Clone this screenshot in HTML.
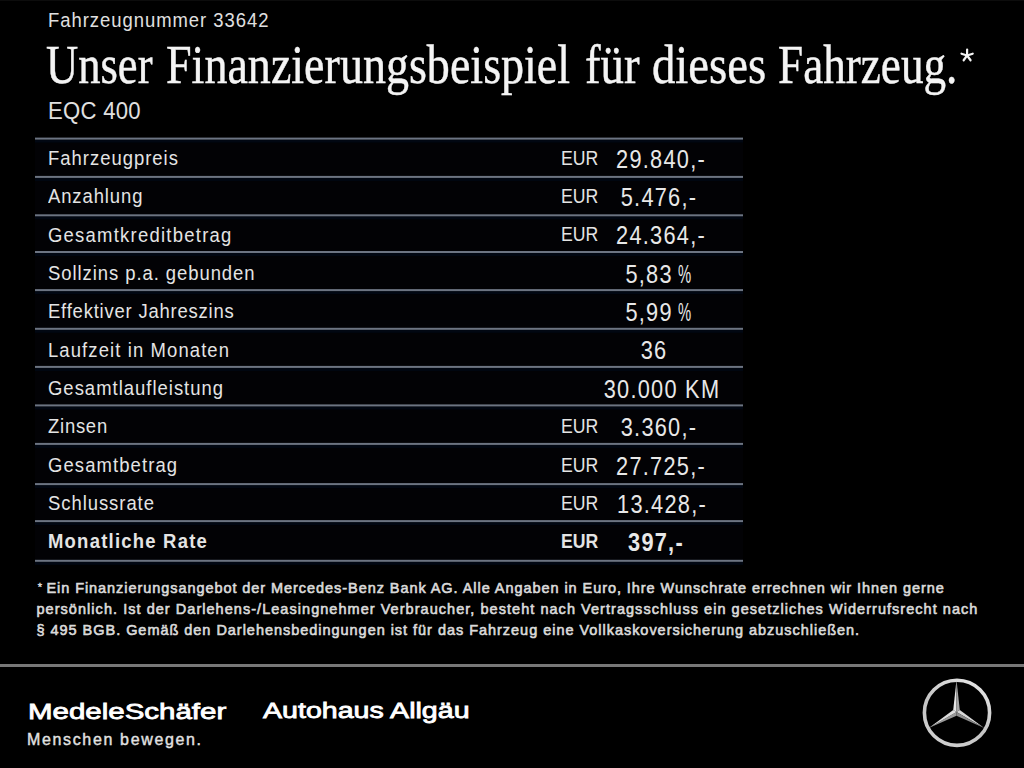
<!DOCTYPE html>
<html><head><meta charset="utf-8">
<style>
html,body{margin:0;padding:0;background:#000;}
body{width:1024px;height:768px;position:relative;overflow:hidden;font-family:"Liberation Sans",sans-serif;color:#e8e8e8;}
.a{position:absolute;white-space:nowrap;line-height:1;}
.lab{position:absolute;left:48px;font-size:20.5px;line-height:1;white-space:nowrap;color:#e4e4e4;letter-spacing:1.06px;transform-origin:0 0;transform:scaleX(0.9);}
.eur{position:absolute;left:561px;font-size:21px;line-height:1;color:#e4e4e4;transform-origin:0 0;transform:scaleX(0.84);}
.val{position:absolute;left:560px;width:200px;text-align:center;font-size:25px;line-height:1;color:#e8e8e8;letter-spacing:1.45px;transform:scaleX(0.87);}
.fn{position:absolute;left:36.5px;font-size:14.5px;line-height:1;color:#dadada;white-space:nowrap;-webkit-text-stroke:0.6px #dadada;}
b{font-weight:bold;}
</style></head><body>
<div style="position:absolute;left:35px;top:139px;width:708px;height:422px;background:#020205;"></div>
<div style="position:absolute;left:0;top:0;width:1024px;height:1px;background:#0c0c0c;"></div>
<div class="a" style="left:48px;top:10.25px;font-size:20.5px;letter-spacing:1.08px;color:#e0e0e0;transform-origin:0 0;transform:scaleX(0.9);">Fahrzeugnummer 33642</div>
<div class="a" style="left:46.29px;top:36.94px;font-family:'Liberation Serif',serif;font-size:55px;color:#f4f4f4;-webkit-text-stroke:0.45px #f4f4f4;transform-origin:0 0;transform:scaleX(0.8108);">Unser</div>
<div class="a" style="left:165.96px;top:36.94px;font-family:'Liberation Serif',serif;font-size:55px;color:#f4f4f4;-webkit-text-stroke:0.45px #f4f4f4;transform-origin:0 0;transform:scaleX(0.8372);">Finanzierungsbeispiel</div>
<div class="a" style="left:584.80px;top:36.94px;font-family:'Liberation Serif',serif;font-size:55px;color:#f4f4f4;-webkit-text-stroke:0.45px #f4f4f4;transform-origin:0 0;transform:scaleX(0.8516);">für</div>
<div class="a" style="left:651.60px;top:36.94px;font-family:'Liberation Serif',serif;font-size:55px;color:#f4f4f4;-webkit-text-stroke:0.45px #f4f4f4;transform-origin:0 0;transform:scaleX(0.8496);">dieses</div>
<div class="a" style="left:778.48px;top:36.94px;font-family:'Liberation Serif',serif;font-size:55px;color:#f4f4f4;-webkit-text-stroke:0.45px #f4f4f4;transform-origin:0 0;transform:scaleX(0.8215);">Fahrzeug.</div>
<svg style="position:absolute;left:0;top:0" width="1024" height="120"><g stroke="#f4f4f4" stroke-width="2.2" stroke-linecap="round"><line x1="967.1" y1="55.5" x2="967.10" y2="49.60"/><line x1="967.1" y1="55.5" x2="972.71" y2="53.68"/><line x1="967.1" y1="55.5" x2="970.57" y2="60.27"/><line x1="967.1" y1="55.5" x2="963.63" y2="60.27"/><line x1="967.1" y1="55.5" x2="961.49" y2="53.68"/></g></svg>
<div class="a" style="left:48.3px;top:100.03px;font-size:23px;letter-spacing:0.3px;color:#e0e0e0;transform-origin:0 0;transform:scaleX(0.96);">EQC 400</div>
<svg style="position:absolute;left:0;top:0" width="1024" height="768">
<rect x="35" y="139.60" width="708" height="3" fill="#010712"/>
<rect x="35" y="137.60" width="708" height="2" fill="#6c7482"/>
<rect x="35" y="177.90" width="708" height="3" fill="#010712"/>
<rect x="35" y="175.90" width="708" height="2" fill="#6c7482"/>
<rect x="35" y="216.30" width="708" height="3" fill="#010712"/>
<rect x="35" y="214.30" width="708" height="2" fill="#6c7482"/>
<rect x="35" y="253.00" width="708" height="3" fill="#010712"/>
<rect x="35" y="251.00" width="708" height="2" fill="#6c7482"/>
<rect x="35" y="291.10" width="708" height="3" fill="#010712"/>
<rect x="35" y="289.10" width="708" height="2" fill="#6c7482"/>
<rect x="35" y="329.80" width="708" height="3" fill="#010712"/>
<rect x="35" y="327.80" width="708" height="2" fill="#6c7482"/>
<rect x="35" y="367.90" width="708" height="3" fill="#010712"/>
<rect x="35" y="365.90" width="708" height="2" fill="#6c7482"/>
<rect x="35" y="406.40" width="708" height="3" fill="#010712"/>
<rect x="35" y="404.40" width="708" height="2" fill="#6c7482"/>
<rect x="35" y="444.90" width="708" height="3" fill="#010712"/>
<rect x="35" y="442.90" width="708" height="2" fill="#6c7482"/>
<rect x="35" y="485.10" width="708" height="3" fill="#010712"/>
<rect x="35" y="483.10" width="708" height="2" fill="#6c7482"/>
<rect x="35" y="522.10" width="708" height="3" fill="#010712"/>
<rect x="35" y="520.10" width="708" height="2" fill="#6c7482"/>
<rect x="35" y="561.80" width="708" height="3" fill="#010712"/>
<rect x="35" y="559.80" width="708" height="2" fill="#6c7482"/>
<rect x="0" y="664" width="1024" height="3" fill="#777"/>
</svg>
<div class="lab" style="top:147.95px;letter-spacing:1.106px">Fahrzeugpreis</div>
<div class="eur" style="top:146.72px">EUR</div>
<div class="val" style="left:560.75px;top:146.74px">29.840,-</div>
<div class="lab" style="top:186.30px;letter-spacing:1.004px">Anzahlung</div>
<div class="eur" style="top:185.07px">EUR</div>
<div class="val" style="left:558.90px;top:185.09px">5.476,-</div>
<div class="lab" style="top:224.65px;letter-spacing:1.393px">Gesamtkreditbetrag</div>
<div class="eur" style="top:223.42px">EUR</div>
<div class="val" style="left:560.50px;top:223.44px">24.364,-</div>
<div class="lab" style="top:263.00px;letter-spacing:1.049px">Sollzins p.a. gebunden</div>
<div class="val" style="left:557.80px;top:261.79px">5,83&#8201;<span style="display:inline-block;width:14px;transform-origin:0 0;transform:scaleX(0.68);">%</span></div>
<div class="lab" style="top:301.35px;letter-spacing:0.882px">Effektiver Jahreszins</div>
<div class="val" style="left:557.80px;top:300.14px">5,99&#8201;<span style="display:inline-block;width:14px;transform-origin:0 0;transform:scaleX(0.68);">%</span></div>
<div class="lab" style="top:339.70px;letter-spacing:1.233px">Laufzeit in Monaten</div>
<div class="val" style="left:553.50px;top:338.49px">36</div>
<div class="lab" style="top:378.05px;letter-spacing:1.119px">Gesamtlaufleistung</div>
<div class="val" style="left:562.40px;top:376.84px">30.000 KM</div>
<div class="lab" style="top:416.40px;letter-spacing:0.838px">Zinsen</div>
<div class="eur" style="top:415.17px">EUR</div>
<div class="val" style="left:558.60px;top:415.19px">3.360,-</div>
<div class="lab" style="top:454.75px;letter-spacing:1.222px">Gesamtbetrag</div>
<div class="eur" style="top:453.52px">EUR</div>
<div class="val" style="left:561.00px;top:453.54px">27.725,-</div>
<div class="lab" style="top:493.10px;letter-spacing:1.06px">Schlussrate</div>
<div class="eur" style="top:491.87px">EUR</div>
<div class="val" style="left:561.80px;top:491.89px">13.428,-</div>
<div class="lab" style="top:531.45px;letter-spacing:1.377px;font-weight:bold">Monatliche Rate</div>
<div class="eur" style="top:530.22px;font-weight:bold">EUR</div>
<div class="val" style="left:556.20px;top:530.24px;font-weight:bold">397,-</div>
<div class="a" style="left:37.7px;top:581.5px;font-size:11px;color:#e8e8e8;-webkit-text-stroke:0.3px #e8e8e8;">*</div>
<div class="fn" style="top:580.93px;letter-spacing:0px"><span style='position:relative;left:9.9px;letter-spacing:0.938px'>Ein Finanzierungsangebot der Mercedes-Benz Bank AG. Alle Angaben in Euro, Ihre Wunschrate errechnen wir Ihnen gerne</span></div>
<div class="fn" style="top:602.23px;letter-spacing:1.04px">persönlich. Ist der Darlehens-/Leasingnehmer Verbraucher, besteht nach Vertragsschluss ein gesetzliches Widerrufsrecht nach</div>
<div class="fn" style="top:623.33px;letter-spacing:0.967px">§ 495 BGB. Gemäß den Darlehensbedingungen ist für das Fahrzeug eine Vollkaskoversicherung abzuschließen.</div>
<div class="a" style="left:27.5px;top:700.55px;font-size:22.5px;color:#fff;-webkit-text-stroke:0.8px #fff;letter-spacing:0px;transform-origin:0 0;transform:scaleX(1.31);">MedeleSchäfer</div>
<div class="a" style="left:27px;top:732.16px;font-size:16px;color:#e2e2e2;letter-spacing:1.65px;-webkit-text-stroke:0.4px #e2e2e2;">Menschen bewegen.</div>
<div class="a" style="left:263px;top:700.35px;font-size:22.5px;color:#fff;-webkit-text-stroke:0.8px #fff;letter-spacing:0px;transform-origin:0 0;transform:scaleX(1.27);">Autohaus Allgäu</div>
<svg style="position:absolute;left:0;top:0" width="1024" height="768">
<defs><linearGradient id="rg" x1="0.8" y1="0" x2="0.2" y2="1"><stop offset="0" stop-color="#e4e4e4"/><stop offset="0.55" stop-color="#c4c4c4"/><stop offset="1" stop-color="#d0d0d0"/></linearGradient></defs>
<circle cx="957.0" cy="712.8" r="32.6" fill="none" stroke="url(#rg)" stroke-width="3.6"/>
<path d="M956.50 680.00 L953.21 710.10 L956.50 712.00 Z" fill="#e6e6e6"/><path d="M956.50 680.00 L959.79 710.10 L956.50 712.00 Z" fill="#a8a8a8"/><path d="M984.21 728.00 L959.79 710.10 L956.50 712.00 Z" fill="#d8d8d8"/><path d="M984.21 728.00 L956.50 715.80 L956.50 712.00 Z" fill="#8c8c8c"/><path d="M928.79 728.00 L956.50 715.80 L956.50 712.00 Z" fill="#9a9a9a"/><path d="M928.79 728.00 L953.21 710.10 L956.50 712.00 Z" fill="#dedede"/>
</svg>
</body></html>
